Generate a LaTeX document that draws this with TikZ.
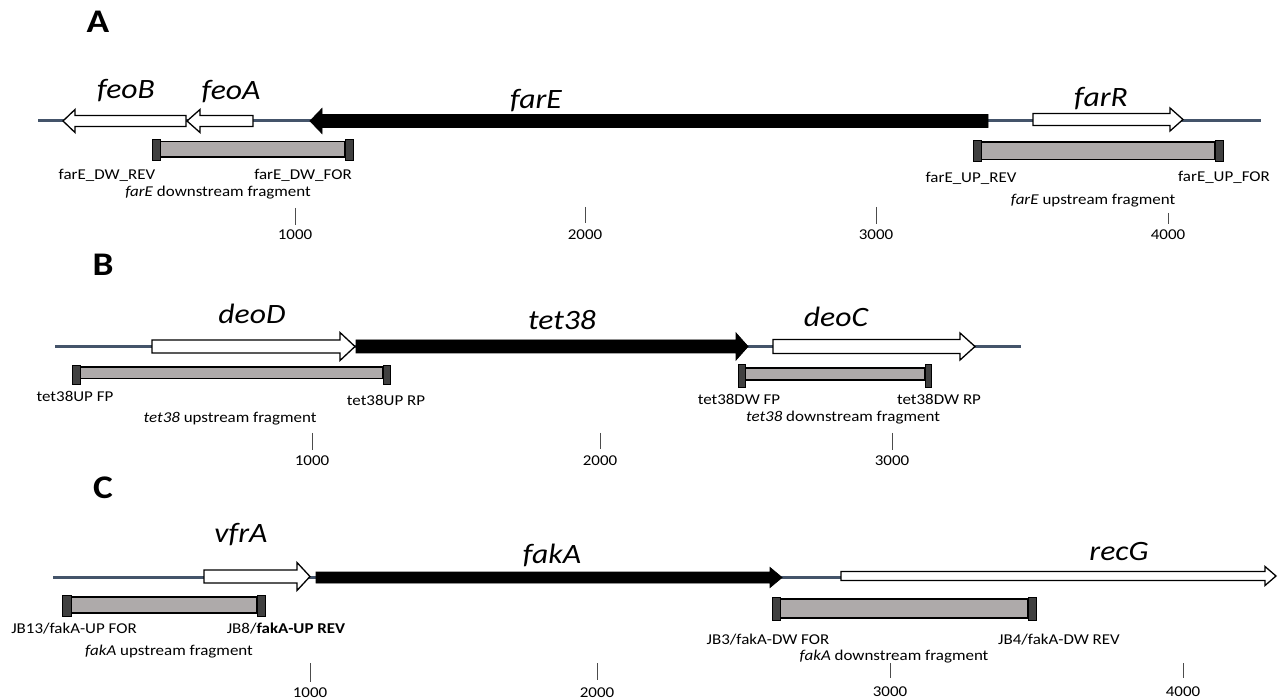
\documentclass[tikz,border=0pt]{standalone}
\usepackage{fontspec}
\setmainfont{Carlito}[FakeStretch=1.13]
\definecolor{bbcol}{HTML}{44546A}
\definecolor{fraggray}{HTML}{AEAAAA}
\definecolor{capgray}{HTML}{404040}

% gene arrow pointing right: style, x start, x tip, y centre, body half-height, head half-height, head length
\newcommand\genefwd[7]{%
  \draw[#1] (#2,#4-#5) -- (#3-#7,#4-#5) -- (#3-#7,#4-#6) -- (#3,#4)
    -- (#3-#7,#4+#6) -- (#3-#7,#4+#5) -- (#2,#4+#5) -- cycle;}
% gene arrow pointing left: style, x tip, x end, y centre, body half-height, head half-height, head length
\newcommand\generev[7]{%
  \draw[#1] (#2,#4) -- (#2+#7,#4-#6) -- (#2+#7,#4-#5) -- (#3,#4-#5)
    -- (#3,#4+#5) -- (#2+#7,#4+#5) -- (#2+#7,#4+#6) -- cycle;}
% PCR fragment: left cap x1..x2, bar x2..x3, right cap x3..x4, bar top/bottom, cap top/bottom
\newcommand\pcrfrag[8]{%
  \draw[fragbar] (#2,#5) rectangle (#3,#6);
  \draw[fragcap] (#1,#7) rectangle (#2,#8);
  \draw[fragcap] (#3,#7) rectangle (#4,#8);}

\tikzset{
  dnaline/.style={draw=bbcol, line width=3pt},
  genewhite/.style={draw=black, fill=white, line width=1.3pt, line join=miter},
  geneblack/.style={draw=black, fill=black, line width=0.8pt, line join=miter},
  fragbar/.style={draw=black, fill=fraggray, line width=1.6pt},
  fragcap/.style={draw=black, fill=capgray, line width=0.8pt},
  scaletick/.style={draw=black!70, line width=0.9pt},
  genelabel/.style={font=\fontsize{28}{30}\selectfont\itshape, anchor=base, inner sep=0pt},
  primerlabel/.style={font=\fontsize{15}{17}\selectfont, anchor=base, inner sep=0pt},
  panelletter/.style={font=\fontsize{33}{36}\selectfont\bfseries, anchor=base, inner sep=0pt},
}

\begin{document}
\begin{tikzpicture}[x=1pt, y=-1pt]
\useasboundingbox (0,0) rectangle (1283,700);

% ---------------- Panel A ----------------
\node[panelletter] (pA) at (98,33) {A};
\draw[dnaline] (38,121) -- (1261,121);
\generev{genewhite}{63}{186}{121}{5.5}{11.5}{12}
\generev{genewhite}{187}{253}{121}{5.5}{11.5}{13}
\generev{geneblack}{310}{988}{121}{6.5}{12.5}{12}
\genefwd{genewhite}{1033}{1183}{119.5}{6}{11.5}{13}
\node[genelabel] (gfeoB) at (126,99) {feoB};
\node[genelabel] (gfeoA) at (231,100) {feoA};
\node[genelabel] (gfarE) at (536,109) {farE};
\node[genelabel] (gfarR) at (1101,107) {farR};

\pcrfrag{152}{160}{345}{353}{141.5}{157}{139.5}{160.5}
\pcrfrag{973}{981}{1215}{1223}{142}{159.5}{140.5}{161.5}

\node[primerlabel] (pA1) at (107,180) {farE\_DW\_REV};
\node[primerlabel] (pA2) at (303,180) {farE\_DW\_FOR};
\node[primerlabel] (fA1) at (218,197) {\textit{farE} downstream fragment};
\node[primerlabel] (pA3) at (971,183) {farE\_UP\_REV};
\node[primerlabel] (pA4) at (1224,182) {farE\_UP\_FOR};
\node[primerlabel] (fA2) at (1093,205) {\textit{farE} upstream fragment};

\draw[scaletick] (295,208) -- (295,225);
\draw[scaletick] (585,207) -- (585,223);
\draw[scaletick] (876,207) -- (876,224);
\draw[scaletick] (1168,213) -- (1168,224);
\node[primerlabel] (sA1) at (295,240) {1000};
\node[primerlabel] (sA2) at (585,240) {2000};
\node[primerlabel] (sA3) at (876,240) {3000};
\node[primerlabel] (sA4) at (1168,240) {4000};

% ---------------- Panel B ----------------
\node[panelletter] (pB) at (103,276) {B};
\draw[dnaline] (55,346.5) -- (1021,346.5);
\genefwd{genewhite}{152}{355}{346.5}{6.5}{14}{15}
\genefwd{geneblack}{356}{748}{346.5}{6.5}{13.5}{12}
\genefwd{genewhite}{773}{975}{346.5}{7}{13.5}{15}
\node[genelabel] (gdeoD) at (252,324) {deoD};
\node[genelabel] (gtet) at (562,330) {tet38};
\node[genelabel] (gdeoC) at (836,327) {deoC};

\pcrfrag{72}{80}{383}{390}{367}{378.5}{365}{384.5}
\pcrfrag{738}{745}{925}{931}{368}{380}{364}{387}

\node[primerlabel] (pB1) at (75,402) {tet38UP FP};
\node[primerlabel] (pB2) at (386,406) {tet38UP RP};
\node[primerlabel] (fB1) at (230,423) {\textit{tet38} upstream fragment};
\node[primerlabel] (pB3) at (739,405) {tet38DW FP};
\node[primerlabel] (pB4) at (939,405) {tet38DW RP};
\node[primerlabel] (fB2) at (843,422) {\textit{tet38} downstream fragment};

\draw[scaletick] (312,433) -- (312,450);
\draw[scaletick] (600,433) -- (600,449);
\draw[scaletick] (892,433) -- (892,450);
\node[primerlabel] (sB1) at (312,466) {1000};
\node[primerlabel] (sB2) at (600,466) {2000};
\node[primerlabel] (sB3) at (892,466) {3000};

% ---------------- Panel C ----------------
\node[panelletter] (pC) at (103,499) {C};
\draw[dnaline] (53,577) -- (845,577);
\genefwd{genewhite}{204}{310}{576.5}{6.5}{14}{13}
\genefwd{geneblack}{316}{782}{577.5}{5.5}{10}{12}
\genefwd{genewhite}{841}{1276}{576}{4.5}{9.5}{11}
\node[genelabel] (gvfrA) at (241,542) {vfrA};
\node[genelabel] (gfakA) at (552,563) {fakA};
\node[genelabel] (grecG) at (1119,560) {recG};

\pcrfrag{62}{71}{257}{265}{597}{613}{595}{616}
\pcrfrag{772}{780}{1028}{1036}{599}{618}{597}{620}

\node[primerlabel] (pC1) at (74,633) {JB13/fakA-UP FOR};
\node[primerlabel] (pC2) at (286,633) {JB8/\textbf{fakA-UP REV}};
\node[primerlabel] (fC1) at (169,655) {\textit{fakA} upstream fragment};
\node[primerlabel] (pC3) at (768,644) {JB3/fakA-DW FOR};
\node[primerlabel] (pC4) at (1059,644) {JB4/fakA-DW REV};
\node[primerlabel] (fC2) at (894,660) {\textit{fakA} downstream fragment};

\draw[scaletick] (310,663) -- (310,682);
\draw[scaletick] (597,663) -- (597,680);
\draw[scaletick] (890,663) -- (890,678);
\draw[scaletick] (1183,663) -- (1183,678);
\node[primerlabel] (sC1) at (310,697) {1000};
\node[primerlabel] (sC2) at (597,697) {2000};
\node[primerlabel] (sC3) at (890,696) {3000};
\node[primerlabel] (sC4) at (1183,696) {4000};
\end{tikzpicture}
\end{document}
